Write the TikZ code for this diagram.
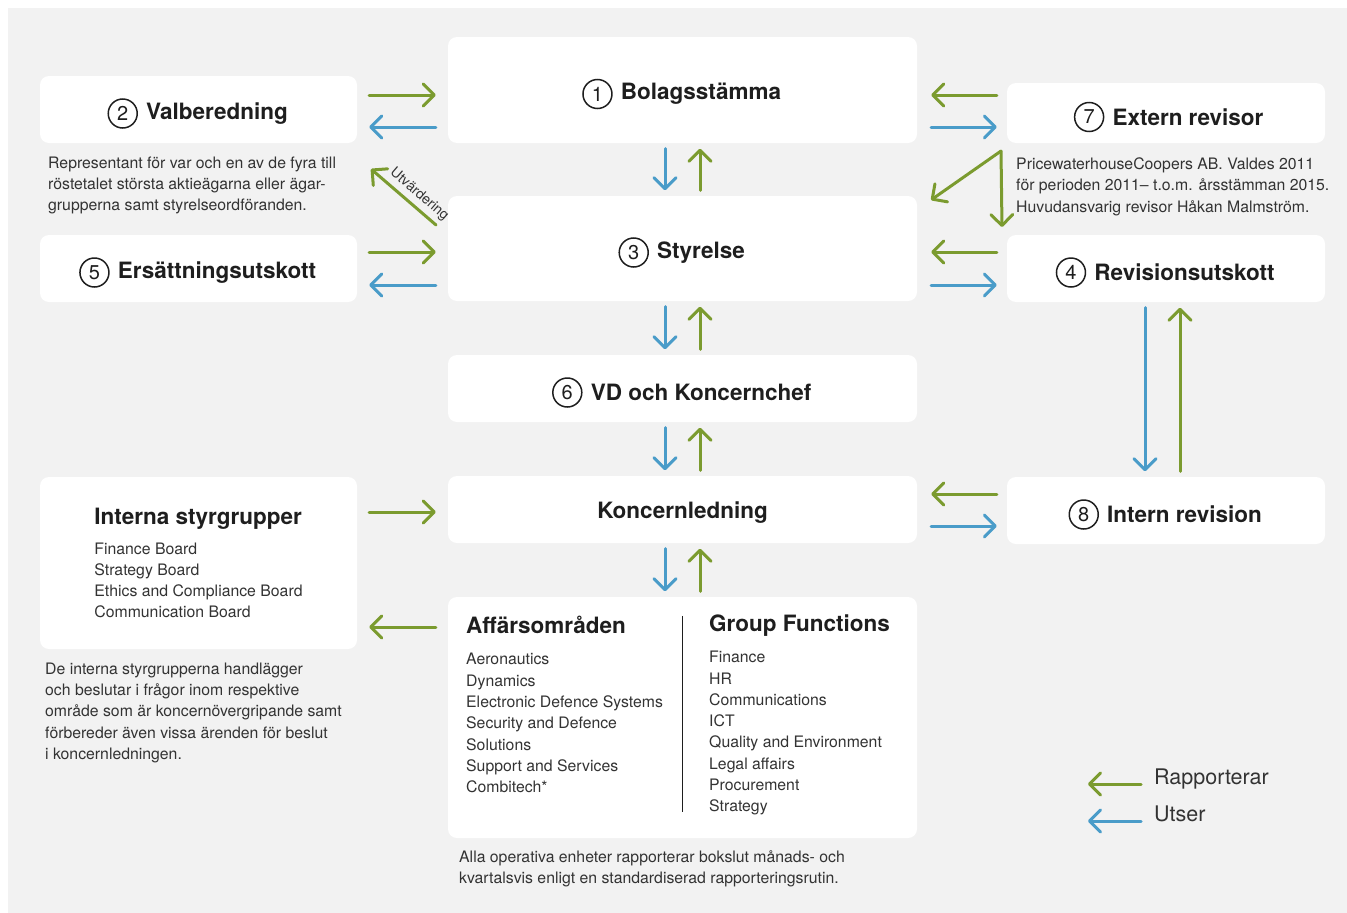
\documentclass[tikz,border=0pt]{standalone}
\usepackage{fontspec}
\setmainfont{TeX Gyre Heros}
\usetikzlibrary{arrows.meta,positioning}

\definecolor{bggray}{HTML}{F2F2F2}
\definecolor{repgreen}{HTML}{7B9B2F}
\definecolor{utblue}{HTML}{4A9CC9}
\definecolor{txt}{HTML}{1E1E1E}
\definecolor{txtlight}{HTML}{333333}

\newcommand\ttlfont{\fontsize{22.5}{27}\selectfont\bfseries}
\newcommand\bodyfont{\fontsize{15.8}{21.3}\selectfont}
\newcommand\numfont{\fontsize{20}{20}\selectfont}
\newcommand\lgfont{\fontsize{21.5}{26}\selectfont}
\newcommand\smallfont{\fontsize{14}{16}\selectfont}

\tikzset{
  box/.style={fill=white, rounded corners=9pt, inner sep=0pt},
  ttl/.style={font=\ttlfont, text=txt, inner sep=0pt},
  num/.style={draw=txt, circle, line width=1.5pt, minimum size=29pt, inner sep=0pt, font=\numfont, text=txt},
  note/.style={font=\bodyfont, text=txtlight, align=left, anchor=north west, inner sep=0pt},
  rep/.style={draw=repgreen, line width=3pt, line cap=round, -{Straight Barb[length=11pt,width=22pt,round]}},
  ut/.style={rep, draw=utblue},
  lr/.style={shorten <=12pt, shorten >=12pt},
  ud/.style={shorten <=5.5pt, shorten >=5.5pt}
}

\begin{document}
\begin{tikzpicture}[x=1pt,y=-1pt]
\useasboundingbox (0,0) rectangle (1347,913);
\fill[bggray] (8,8) rectangle (1347,913);

%Rounded Rect
\node[box, minimum width=469pt, minimum height=106pt] (bs) at (682.5,90) {};
\node[box, minimum width=317pt, minimum height=67pt] (vb) at (198.5,109.5) {};
\node[box, minimum width=318pt, minimum height=60pt] (er) at (1166,113) {};
\node[box, minimum width=469pt, minimum height=105pt] (st) at (682.5,248.5) {};
\node[box, minimum width=317pt, minimum height=67pt] (es) at (198.5,268.5) {};
\node[box, minimum width=318pt, minimum height=67pt] (ru) at (1166,268.5) {};
\node[box, minimum width=469pt, minimum height=67pt] (vd) at (682.5,388.5) {};
\node[box, minimum width=469pt, minimum height=67pt] (kl) at (682.5,509.5) {};
\node[box, minimum width=318pt, minimum height=67pt] (ir) at (1166,510.5) {};
\node[box, minimum width=469pt, minimum height=241pt] (ag) at (682.5,717.5) {};
\node[box, minimum width=317pt, minimum height=172pt, align=left, font=\bodyfont, text=txtlight] (is) at (198.5,563)
  {{\ttlfont\color{txt}Interna styrgrupper}\\[8.5pt]Finance Board\\Strategy Board\\Ethics and Compliance Board\\Communication Board};

% Text Node
\node[ttl] (bs-t) at ([xshift=18.5pt,yshift=-4pt]bs.center) {Bolagsstämma};
\node[num, left=8pt of bs-t] (bs-n) {1};
\node[ttl] (vb-t) at ([xshift=18.5pt,yshift=-4pt]vb.center) {Valberedning};
\node[num, left=8pt of vb-t] (vb-n) {2};
\node[ttl] (st-t) at ([xshift=18.5pt,yshift=-4pt]st.center) {Styrelse};
\node[num, left=8pt of st-t] (st-n) {3};
\node[ttl] (ru-t) at ([xshift=18.5pt,yshift=-4pt]ru.center) {Revisionsutskott};
\node[num, left=8pt of ru-t] (ru-n) {4};
\node[ttl] (es-t) at ([xshift=18.5pt,yshift=-4pt]es.center) {Ersättningsutskott};
\node[num, left=8pt of es-t] (es-n) {5};
\node[ttl] (vd-t) at ([xshift=18.5pt,yshift=-4pt]vd.center) {VD och Koncernchef};
\node[num, left=8pt of vd-t] (vd-n) {6};
\node[ttl] (er-t) at ([xshift=22pt,yshift=-4pt]er.center) {Extern revisor};
\node[num, left=8pt of er-t] (er-n) {7};
\node[ttl] (ir-t) at ([xshift=18.5pt,yshift=-4pt]ir.center) {Intern revision};
\node[num, left=8pt of ir-t] (ir-n) {8};
\node[ttl] (kl-t) at ([yshift=-3pt]kl.center) {Koncernledning};

% Text Node
\node[anchor=north west, align=left, font=\bodyfont, text=txtlight, inner sep=0pt] (ag-l) at (466,616)
  {{\ttlfont\color{txt}Affärsområden}\\[10pt]Aeronautics\\Dynamics\\Electronic Defence Systems\\Security and Defence\\Solutions\\Support and Services\\Combitech*};
\node[anchor=north west, align=left, font=\bodyfont, text=txtlight, inner sep=0pt] (ag-r) at (709,614.5)
  {{\ttlfont\color{txt}Group Functions}\\[10pt]Finance\\HR\\Communications\\ICT\\Quality and Environment\\Legal affairs\\Procurement\\Strategy};
\draw[txt, line width=1.2pt] ([yshift=-19pt]ag.north) -- ([yshift=26pt]ag.south);

% Text Node
\node[note] (vb-c) at (48,156.5) {Representant för var och en av de fyra till\\röstetalet största aktieägarna eller ägar-\\grupperna samt styrelseordföranden.};
\node[note] (er-c) at (1016,157.5) {PricewaterhouseCoopers AB. Valdes 2011\\för perioden 2011– t.o.m. årsstämman 2015.\\Huvudansvarig revisor Håkan Malmström.};
\node[note] (is-c) at (45,662.5) {De interna styrgrupperna handlägger\\och beslutar i frågor inom respektive\\område som är koncernövergripande samt\\förbereder även vissa ärenden för beslut\\i koncernledningen.};
\node[note] (ag-c) at (459,850.5) {Alla operativa enheter rapporterar bokslut månads- och\\kvartalsvis enligt en standardiserad rapporteringsrutin.};

%Straight Lines
\draw[rep, lr] (vb.east |- 0,95) -- (bs.west |- 0,95);
\draw[ut, lr] (bs.west |- 0,127) -- (vb.east |- 0,127);
\draw[rep, shorten <=10pt, shorten >=14pt] (er.west |- 0,95) -- (bs.east |- 0,95);
\draw[ut, shorten <=14pt, shorten >=10pt] (bs.east |- 0,127) -- (er.west |- 0,127);
\draw[rep, lr] (es.east |- 0,252) -- (st.west |- 0,252);
\draw[ut, lr] (st.west |- 0,285) -- (es.east |- 0,285);
\draw[rep, shorten <=10pt, shorten >=14pt] (ru.west |- 0,252) -- (st.east |- 0,252);
\draw[ut, shorten <=14pt, shorten >=10pt] (st.east |- 0,285) -- (ru.west |- 0,285);
\draw[rep, shorten <=10pt, shorten >=14pt] (ir.west |- 0,494) -- (kl.east |- 0,494);
\draw[ut, shorten <=14pt, shorten >=10pt] (kl.east |- 0,526) -- (ir.west |- 0,526);
\draw[rep, lr] (is.east |- 0,512) -- (kl.west |- 0,512);
\draw[rep, lr] (ag.west |- 0,627) -- (is.east |- 0,627);

%Straight Lines
\draw[ut, ud] (bs.south -| 665,0) -- (st.north -| 665,0);
\draw[rep, ud] (st.north -| 700,0) -- (bs.south -| 700,0);
\draw[ut, ud] (st.south -| 665,0) -- (vd.north -| 665,0);
\draw[rep, ud] (vd.north -| 700,0) -- (st.south -| 700,0);
\draw[ut, ud] (vd.south -| 665,0) -- (kl.north -| 665,0);
\draw[rep, ud] (kl.north -| 700,0) -- (vd.south -| 700,0);
\draw[ut, ud] (kl.south -| 665,0) -- (ag.north -| 665,0);
\draw[rep, ud] (ag.north -| 700,0) -- (kl.south -| 700,0);
\draw[ut, ud] (ru.south -| 1145,0) -- (ir.north -| 1145,0);
\draw[rep, ud] (ir.north -| 1180,0) -- (ru.south -| 1180,0);

%Straight Lines
\coordinate (er-a) at (1001,151);
\coordinate (er-l) at (931,200);
\coordinate (er-d) at (1002,227);
\draw[rep] (er-a) -- (er-l);
\draw[rep] (er-a) -- (er-d);
\coordinate (ut-a) at (436,225);
\coordinate (ut-b) at (371,169);
\draw[rep] (ut-a) -- node[pos=0.38, sloped, above, font=\smallfont, text=txtlight, inner sep=4pt] (ut-l) {Utvärdering} (ut-b);

% Text Node
\node[anchor=base west, font=\lgfont, text=txtlight, inner sep=0pt] (lg-r) at (1154,784) {Rapporterar};
\node[anchor=base west, font=\lgfont, text=txtlight, inner sep=0pt] (lg-u) at (1154,821) {Utser};
\draw[rep] ([xshift=-13pt]lg-r.base west) -- ([xshift=-66pt]lg-r.base west);
\draw[ut] ([xshift=-13pt]lg-u.base west) -- ([xshift=-66pt]lg-u.base west);

\end{tikzpicture}
\end{document}
